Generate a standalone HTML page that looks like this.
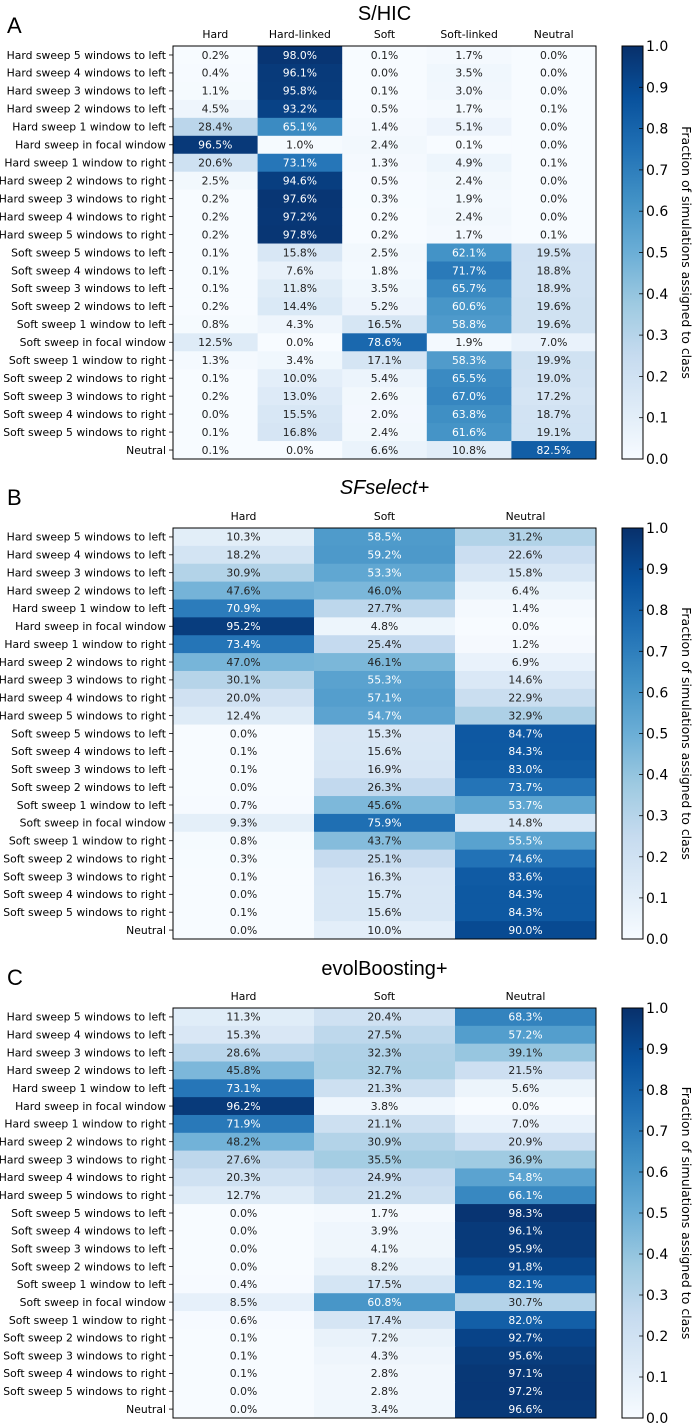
<!DOCTYPE html>
<html><head><meta charset="utf-8"><style>
body{margin:0;background:#fff;}
svg{display:block;font-family:"DejaVu Sans","Liberation Sans",sans-serif;}
</style></head><body>
<svg id="fig" width="693" height="1423" viewBox="0 0 693 1423" xmlns="http://www.w3.org/2000/svg">
<defs><linearGradient id="cb" x1="0" y1="1" x2="0" y2="0">
<stop offset="0" stop-color="#f7fbff"/><stop offset="0.125" stop-color="#deebf7"/><stop offset="0.25" stop-color="#c6dbef"/><stop offset="0.375" stop-color="#9ecae1"/><stop offset="0.5" stop-color="#6baed6"/><stop offset="0.625" stop-color="#4292c6"/><stop offset="0.75" stop-color="#2171b5"/><stop offset="0.875" stop-color="#08519c"/><stop offset="1" stop-color="#08306b"/>
</linearGradient></defs>
</svg>
<script>
const rowLabels=["Hard sweep 5 windows to left","Hard sweep 4 windows to left","Hard sweep 3 windows to left","Hard sweep 2 windows to left","Hard sweep 1 window to left","Hard sweep in focal window","Hard sweep 1 window to right","Hard sweep 2 windows to right","Hard sweep 3 windows to right","Hard sweep 4 windows to right","Hard sweep 5 windows to right","Soft sweep 5 windows to left","Soft sweep 4 windows to left","Soft sweep 3 windows to left","Soft sweep 2 windows to left","Soft sweep 1 window to left","Soft sweep in focal window","Soft sweep 1 window to right","Soft sweep 2 windows to right","Soft sweep 3 windows to right","Soft sweep 4 windows to right","Soft sweep 5 windows to right","Neutral"];
const colsA=["Hard","Hard-linked","Soft","Soft-linked","Neutral"];
const colsBC=["Hard","Soft","Neutral"];
const valuesA=[[0.2,98.0,0.1,1.7,0.0],[0.4,96.1,0.0,3.5,0.0],[1.1,95.8,0.1,3.0,0.0],[4.5,93.2,0.5,1.7,0.1],[28.4,65.1,1.4,5.1,0.0],[96.5,1.0,2.4,0.1,0.0],[20.6,73.1,1.3,4.9,0.1],[2.5,94.6,0.5,2.4,0.0],[0.2,97.6,0.3,1.9,0.0],[0.2,97.2,0.2,2.4,0.0],[0.2,97.8,0.2,1.7,0.1],[0.1,15.8,2.5,62.1,19.5],[0.1,7.6,1.8,71.7,18.8],[0.1,11.8,3.5,65.7,18.9],[0.2,14.4,5.2,60.6,19.6],[0.8,4.3,16.5,58.8,19.6],[12.5,0.0,78.6,1.9,7.0],[1.3,3.4,17.1,58.3,19.9],[0.1,10.0,5.4,65.5,19.0],[0.2,13.0,2.6,67.0,17.2],[0.0,15.5,2.0,63.8,18.7],[0.1,16.8,2.4,61.6,19.1],[0.1,0.0,6.6,10.8,82.5]];
const valuesB=[[10.3,58.5,31.2],[18.2,59.2,22.6],[30.9,53.3,15.8],[47.6,46.0,6.4],[70.9,27.7,1.4],[95.2,4.8,0.0],[73.4,25.4,1.2],[47.0,46.1,6.9],[30.1,55.3,14.6],[20.0,57.1,22.9],[12.4,54.7,32.9],[0.0,15.3,84.7],[0.1,15.6,84.3],[0.1,16.9,83.0],[0.0,26.3,73.7],[0.7,45.6,53.7],[9.3,75.9,14.8],[0.8,43.7,55.5],[0.3,25.1,74.6],[0.1,16.3,83.6],[0.0,15.7,84.3],[0.1,15.6,84.3],[0.0,10.0,90.0]];
const valuesC=[[11.3,20.4,68.3],[15.3,27.5,57.2],[28.6,32.3,39.1],[45.8,32.7,21.5],[73.1,21.3,5.6],[96.2,3.8,0.0],[71.9,21.1,7.0],[48.2,30.9,20.9],[27.6,35.5,36.9],[20.3,24.9,54.8],[12.7,21.2,66.1],[0.0,1.7,98.3],[0.0,3.9,96.1],[0.0,4.1,95.9],[0.0,8.2,91.8],[0.4,17.5,82.1],[8.5,60.8,30.7],[0.6,17.4,82.0],[0.1,7.2,92.7],[0.1,4.3,95.6],[0.1,2.8,97.1],[0.0,2.8,97.2],[0.0,3.4,96.6]];
const cbTicks=[0,0.1,0.2,0.3,0.4,0.5,0.6,0.7,0.8,0.9,1.0];

const stops=[[247,251,255],[222,235,247],[198,219,239],[158,202,225],[107,174,214],[66,146,198],[33,113,181],[8,81,156],[8,48,107]];
function blues(v){v=Math.max(0,Math.min(1,v));const p=v*8,i=Math.min(7,Math.floor(p)),f=p-i;const a=stops[i],b=stops[i+1];return `rgb(${a.map((c,k)=>Math.round(c+(b[k]-c)*f)).join(',')})`;}
const NS="http://www.w3.org/2000/svg";const svg=document.getElementById('fig');
function mk(tag,at,parent){const e=document.createElementNS(NS,tag);for(const k in at)e.setAttribute(k,at[k]);(parent||svg).appendChild(e);return e;}

const L=173,R=596,CBX=622,CBW=21;
function panel(letter,title,italic,cols,vals,top,bottom,letterY,titleY){
  const g=mk('g',{});
  
  
  const n=rowLabels.length,rh=(bottom-top)/n,cw=(R-L)/cols.length;
  const xs=j=>L+j*cw, ys=i=>top+i*rh;
  let t=mk('text',{x:7,y:letterY,'font-size':22,fill:'#000','font-family':'Liberation Sans, sans-serif'},g);t.textContent=letter;
  
  t=mk('text',{x:(L+R)/2,y:titleY,'font-size':20,'text-anchor':'middle','font-style':italic?'italic':'normal','font-family':'Liberation Sans, sans-serif'},g);t.textContent=title;
  
  cols.forEach((c,j)=>{const e=mk('text',{x:xs(j)+cw/2,y:top-8,'font-size':10.8,'text-anchor':'middle'},g);e.textContent=c;
    });
  vals.forEach((row,i)=>{
    const lb=mk('text',{x:166,y:ys(i)+rh/2+3.8,'font-size':10.8,'text-anchor':'end'},g);lb.textContent=rowLabels[i];
    
    mk('line',{x1:L-4,x2:L,y1:ys(i)+rh/2,y2:ys(i)+rh/2,stroke:'#000','stroke-width':0.8},g);
    row.forEach((v,j)=>{
      const r=mk('rect',{x:xs(j),y:ys(i),width:cw+0.5,height:rh+0.5,fill:blues(v/100)},g);
      
      const tx=mk('text',{x:xs(j)+cw/2,y:ys(i)+rh/2+3.8,'font-size':10.8,'text-anchor':'middle',fill:v>50?'#fff':'#222'},g);
      tx.textContent=v.toFixed(1)+'%';
      
    });
  });
  mk('rect',{x:L,y:top,width:R-L,height:bottom-top,fill:'none',stroke:'#000','stroke-width':1},g);
  const cb=mk('rect',{x:CBX,y:top,width:CBW,height:bottom-top,fill:'url(#cb)',stroke:'#000','stroke-width':1},g);
  
  cbTicks.forEach(tv=>{const y=bottom-tv*(bottom-top);
    mk('line',{x1:CBX+CBW-4,x2:CBX+CBW,y1:y,y2:y,stroke:'#000','stroke-width':0.8},g);
    const e=mk('text',{x:CBX+CBW+3,y:y+5,'font-size':14},g);e.textContent=tv.toFixed(1);
    });
  const cy=(top+bottom)/2;
  const cl=mk('text',{x:682,y:cy,'font-size':12.5,'text-anchor':'middle',transform:`rotate(90 682 ${cy})`},g);
  cl.textContent='Fraction of simulations assigned to class';
  
}
panel('A','S/HIC',false,colsA,valuesA,46,459,33,20);
panel('B','SFselect+',true,colsBC,valuesB,528,939,505,494);
panel('C','evolBoosting+',false,colsBC,valuesC,1008,1418,985,975);
</script>
</body></html>
